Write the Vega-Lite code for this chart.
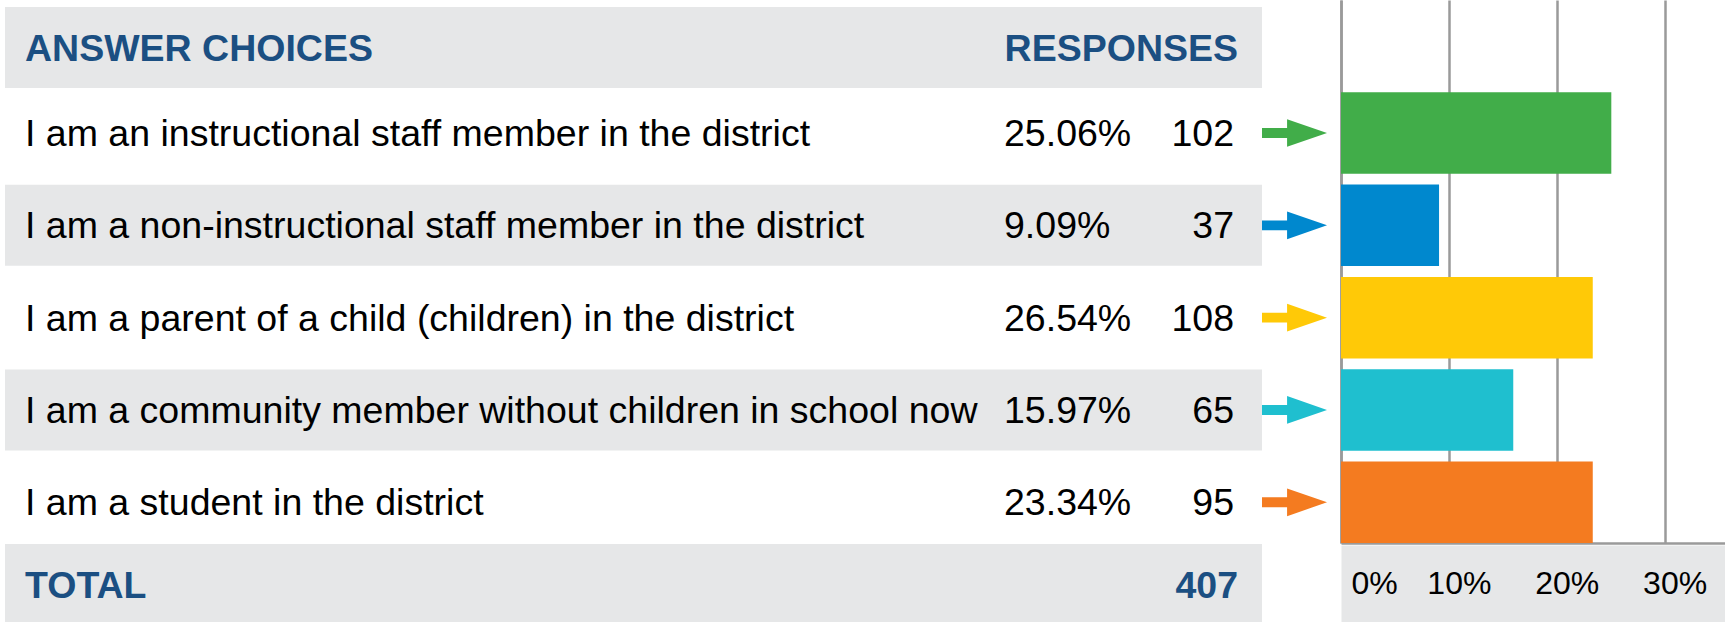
{
  "$schema": "https://vega.github.io/schema/vega-lite/v6.json",
  "padding": {"left": 5, "top": 0, "right": 0, "bottom": 0},
  "background": "white",
  "spacing": 0,
  "config": {"view": {"stroke": null}, "font": "Liberation Sans"},
  "datasets": {
    "rows": [
      {"idx": 0, "key": "h", "kind": "header", "label": "ANSWER CHOICES", "pct": "", "count": "RESPONSES"},
      {"idx": 1, "key": "r1", "kind": "answer", "label": "I am an instructional staff member in the district", "pct": "25.06%", "count": "102", "bar": 0.2506},
      {"idx": 2, "key": "r2", "kind": "answer", "label": "I am a non-instructional staff member in the district", "pct": "9.09%", "count": "37", "bar": 0.0909},
      {"idx": 3, "key": "r3", "kind": "answer", "label": "I am a parent of a child (children) in the district", "pct": "26.54%", "count": "108", "bar": 0.2334},
      {"idx": 4, "key": "r4", "kind": "answer", "label": "I am a community member without children in school now", "pct": "15.97%", "count": "65", "bar": 0.1597},
      {"idx": 5, "key": "r5", "kind": "answer", "label": "I am a student in the district", "pct": "23.34%", "count": "95", "bar": 0.2334},
      {"idx": 6, "key": "t", "kind": "total", "label": "TOTAL", "pct": "", "count": "407"}
    ]
  },
  "data": {"name": "rows"},
  "resolve": {"scale": {"x": "independent", "y": "independent"}},
  "hconcat": [
    {
      "width": 999,
      "height": 622,
      "layer": [
        {
          "transform": [{"filter": {"field": "key", "oneOf": ["h", "r2", "r4", "t"]}}],
          "mark": {"type": "tick", "orient": "horizontal", "thickness": 81, "size": 999, "color": "#e6e7e8", "opacity": 1, "clip": true},
          "encoding": {
            "y": {"field": "idx", "type": "quantitative", "scale": {"domain": [0, 1, 5, 6], "range": [47.5, 133, 502.3, 584.5], "nice": false, "zero": false}, "axis": null}
          }
        },
        {
          "transform": [{"filter": {"field": "kind", "equal": "answer"}}],
          "mark": {"type": "text", "align": "left", "baseline": "middle", "fontSize": 37.5, "color": "#000000", "dx": 20, "dy": 2},
          "encoding": {
            "x": {"value": 0},
            "y": {"field": "idx", "type": "quantitative", "scale": {"domain": [0, 1, 5, 6], "range": [47.5, 133, 502.3, 584.5], "nice": false, "zero": false}, "axis": null},
            "text": {"field": "label"}
          }
        },
        {
          "transform": [{"filter": {"field": "kind", "oneOf": ["header", "total"]}}],
          "mark": {"type": "text", "align": "left", "baseline": "middle", "fontSize": 37.5, "fontWeight": "bold", "color": "#1b4f82", "dx": 20, "dy": 2},
          "encoding": {
            "x": {"value": 0},
            "y": {"field": "idx", "type": "quantitative", "scale": {"domain": [0, 1, 5, 6], "range": [47.5, 133, 502.3, 584.5], "nice": false, "zero": false}, "axis": null},
            "text": {"field": "label"}
          }
        }
      ]
    },
    {
      "width": 258,
      "height": 622,
      "layer": [
        {
          "transform": [{"filter": {"field": "key", "oneOf": ["h", "r2", "r4", "t"]}}],
          "mark": {"type": "tick", "orient": "horizontal", "thickness": 81, "size": 258, "color": "#e6e7e8", "opacity": 1, "clip": true},
          "encoding": {
            "y": {"field": "idx", "type": "quantitative", "scale": {"domain": [0, 1, 5, 6], "range": [47.5, 133, 502.3, 584.5], "nice": false, "zero": false}, "axis": null}
          }
        },
        {
          "transform": [{"filter": {"field": "kind", "equal": "answer"}}],
          "mark": {"type": "text", "align": "left", "baseline": "middle", "fontSize": 37.5, "color": "#000000", "dy": 2},
          "encoding": {
            "x": {"value": 0},
            "y": {"field": "idx", "type": "quantitative", "scale": {"domain": [0, 1, 5, 6], "range": [47.5, 133, 502.3, 584.5], "nice": false, "zero": false}, "axis": null},
            "text": {"field": "pct"}
          }
        },
        {
          "transform": [{"filter": {"field": "kind", "equal": "answer"}}],
          "mark": {"type": "text", "align": "right", "baseline": "middle", "fontSize": 37.5, "color": "#000000", "dx": -28, "dy": 2},
          "encoding": {
            "x": {"value": "width"},
            "y": {"field": "idx", "type": "quantitative", "scale": {"domain": [0, 1, 5, 6], "range": [47.5, 133, 502.3, 584.5], "nice": false, "zero": false}, "axis": null},
            "text": {"field": "count"}
          }
        },
        {
          "transform": [{"filter": {"field": "kind", "oneOf": ["header", "total"]}}],
          "mark": {"type": "text", "align": "right", "baseline": "middle", "fontSize": 37.5, "fontWeight": "bold", "color": "#1b4f82", "dx": -24, "dy": 2},
          "encoding": {
            "x": {"value": "width"},
            "y": {"field": "idx", "type": "quantitative", "scale": {"domain": [0, 1, 5, 6], "range": [47.5, 133, 502.3, 584.5], "nice": false, "zero": false}, "axis": null},
            "text": {"field": "count"}
          }
        }
      ]
    },
    {
      "width": 66,
      "height": 622,
      "transform": [{"filter": {"field": "kind", "equal": "answer"}}],
      "mark": {
        "type": "point",
        "shape": "M -1 -0.15 L -0.24 -0.15 L -0.24 -0.42 L 0.97 0 L -0.24 0.42 L -0.24 0.15 L -1 0.15 Z",
        "size": 4356,
        "filled": true,
        "opacity": 1,
        "strokeWidth": 0
      },
      "encoding": {
        "y": {"field": "idx", "type": "quantitative", "scale": {"domain": [0, 1, 5, 6], "range": [47.5, 133, 502.3, 584.5], "nice": false, "zero": false}, "axis": null},
        "color": {
          "field": "key",
          "type": "nominal",
          "scale": {"domain": ["r1", "r2", "r3", "r4", "r5"], "range": ["#41ad49", "#0088ce", "#ffc907", "#1fbfcf", "#f47b20"]},
          "legend": null
        }
      }
    },
    {
      "width": 384,
      "height": 543,
      "transform": [{"filter": {"field": "kind", "equal": "answer"}}],
      "resolve": {"axis": {"x": "independent"}},
      "layer": [
        {
          "mark": {"type": "bar"},
          "encoding": {
            "y": {
              "field": "key",
              "type": "nominal",
              "scale": {"domain": ["h", "r1", "r2", "r3", "r4", "r5"], "paddingInner": 0.117, "paddingOuter": 0},
              "axis": {
                "values": ["r5"],
                "bandPosition": 1,
                "grid": true,
                "gridColor": "#9a9a9a",
                "gridWidth": 2.5,
                "labels": false,
                "ticks": false,
                "domain": true,
                "domainColor": "#9a9a9a",
                "domainWidth": 2.5,
                "title": null,
                "minExtent": 13,
                "maxExtent": 13
              }
            },
            "x": {
              "field": "bar",
              "type": "quantitative",
              "scale": {"domain": [0, 0.356], "nice": false, "zero": true},
              "axis": {
                "orient": "bottom",
                "values": [0, 0.1, 0.2, 0.3],
                "grid": true,
                "gridColor": "#9a9a9a",
                "gridWidth": 2.5,
                "domain": true,
                "domainColor": "#e6e7e8",
                "domainWidth": 77,
                "offset": 40.5,
                "ticks": false,
                "labels": false,
                "title": null
              }
            },
            "color": {
              "field": "key",
              "type": "nominal",
              "scale": {"domain": ["r1", "r2", "r3", "r4", "r5"], "range": ["#41ad49", "#0088ce", "#ffc907", "#1fbfcf", "#f47b20"]},
              "legend": null
            }
          }
        },
        {
          "mark": {"type": "text", "text": " ", "opacity": 0},
          "encoding": {
            "x": {
              "field": "bar",
              "type": "quantitative",
              "axis": {
                "orient": "bottom",
                "values": [0, 0.1, 0.2, 0.3],
                "format": ".0%",
                "grid": false,
                "domain": false,
                "offset": 40.5,
                "ticks": false,
                "tickSize": 0,
                "labelPadding": 0,
                "labelBaseline": "middle",
                "labelFontSize": 32,
                "labelFont": "Liberation Sans",
                "labelColor": "#000000",
                "labelOffset": 10,
                "labelFlush": true,
                "labelOverlap": false,
                "title": null
              }
            }
          }
        }
      ]
    }
  ]
}
